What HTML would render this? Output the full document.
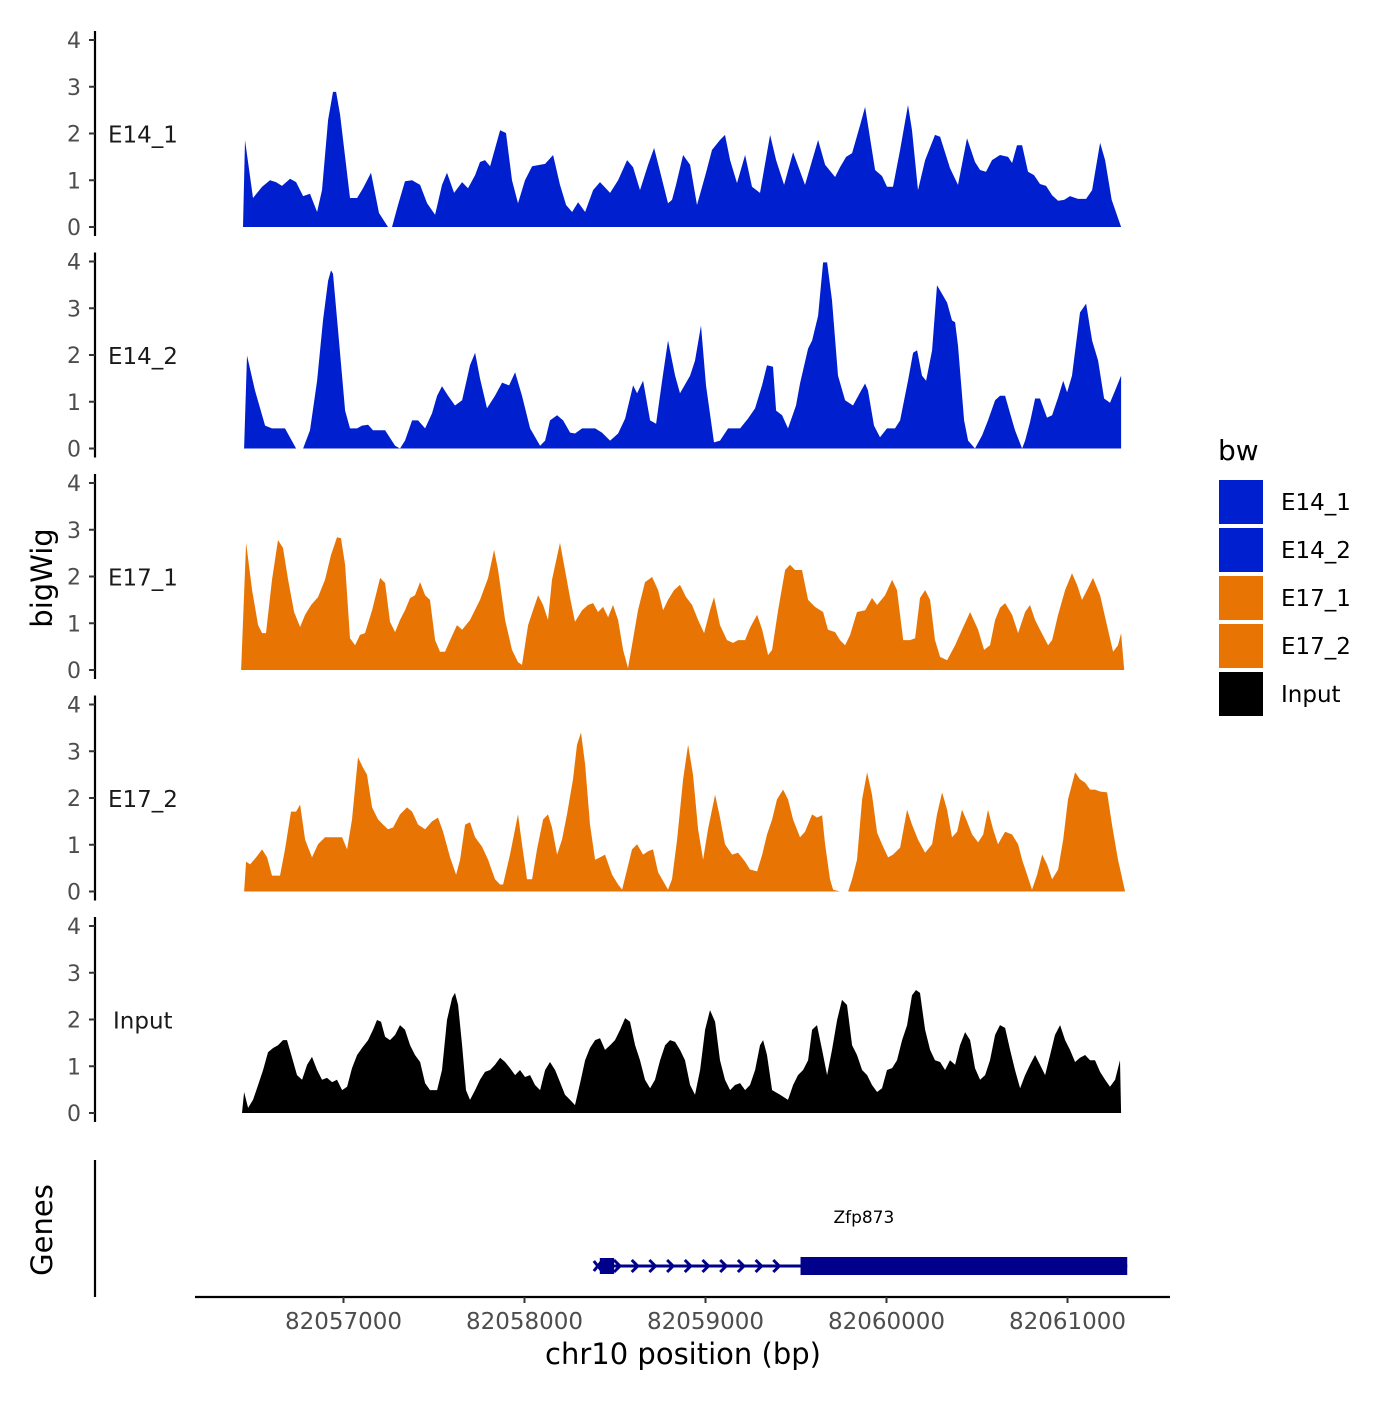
<!DOCTYPE html>
<html><head><meta charset="utf-8"><style>
html,body{margin:0;padding:0;background:#fff;}
svg text{font-family:"DejaVu Sans","Liberation Sans",sans-serif;}
</style></head><body>
<svg id="chart" width="1400" height="1400" viewBox="0 0 1400 1400" xmlns="http://www.w3.org/2000/svg">
<rect width="1400" height="1400" fill="#fff"/>
<g id="tracks"></g>
<g id="gene"></g>
<g id="axes"></g>
<text x="52" y="578" font-size="29" text-anchor="middle" transform="rotate(-90 52 578)">bigWig</text>
<text x="52" y="1230" font-size="29" text-anchor="middle" transform="rotate(-90 52 1230)">Genes</text>
<text x="683" y="1364" font-size="29" text-anchor="middle">chr10 position (bp)</text>
<g id="legend"></g>
</svg>
<script>
const START = 82056445;
const trackNames = ["E14_1","E14_2","E17_1","E17_2","Input"];
const trackColors = ["#0020D0","#0020D0","#E87503","#E87503","#000000"];
const yTicks = [0,1,2,3,4];
const xTicks = [82057000,82058000,82059000,82060000,82061000];

const pos1 = [0,11,55,105,149,182,215,260,293,332,370,409,436,470,497,514,536,591,630,663,707,751,801,823,856,895,934,978,1017,1061,1099,1127,1166,1210,1243,1282,1309,1337,1365,1420,1453,1486,1519,1558,1597,1669,1713,1751,1785,1818,1851,1890,1934,1972,2028,2072,2122,2155,2193,2238,2271,2304,2348,2370,2392,2431,2470,2508,2558,2591,2635,2663,2691,2729,2774,2812,2856,2912,2945,2989,3039,3105,3177,3216,3271,3298,3332,3365,3409,3437,3492,3530,3558,3591,3630,3674,3696,3729,3768,3823,3851,3906,3950,4000,4044,4072,4105,4138,4182,4227,4249,4276,4304,4337,4370,4403,4437,4470,4503,4536,4569,4613,4658,4691,4735,4763,4799,4851];
const val1 = [0,1.86,0.62,0.86,1.0,0.96,0.88,1.03,0.96,0.66,0.71,0.32,0.79,2.29,2.89,2.89,2.4,0.62,0.62,0.83,1.16,0.3,0,0,0.47,0.98,1.0,0.9,0.51,0.26,0.9,1.16,0.73,0.96,0.83,1.11,1.39,1.43,1.3,2.07,2.01,1.0,0.51,1.0,1.3,1.35,1.54,0.9,0.47,0.32,0.53,0.32,0.79,0.96,0.73,1.0,1.43,1.28,0.79,1.33,1.69,1.18,0.51,0.58,0.9,1.54,1.33,0.47,1.16,1.65,1.86,1.97,1.43,0.94,1.54,0.86,0.73,1.97,1.43,0.9,1.6,0.9,1.86,1.33,1.07,1.28,1.5,1.58,2.18,2.57,1.22,1.09,0.86,0.86,1.65,2.61,2.07,0.79,1.43,1.97,1.93,1.26,0.9,1.9,1.39,1.22,1.18,1.43,1.54,1.5,1.37,1.75,1.75,1.18,1.11,0.92,0.88,0.68,0.56,0.58,0.66,0.6,0.6,0.79,1.8,1.43,0.58,0];

const pos2 = [6,22,66,122,160,232,293,332,370,409,442,470,486,497,525,564,591,630,657,691,718,785,840,867,895,934,967,1006,1044,1072,1099,1133,1171,1210,1254,1282,1309,1348,1392,1431,1470,1503,1541,1586,1641,1669,1696,1735,1768,1807,1834,1873,1945,1983,2028,2072,2111,2155,2177,2210,2249,2282,2315,2348,2387,2414,2470,2497,2530,2558,2602,2635,2680,2746,2790,2829,2867,2895,2928,2945,2978,3011,3055,3077,3122,3144,3177,3205,3227,3254,3287,3326,3370,3409,3437,3453,3486,3519,3558,3602,3630,3674,3702,3724,3751,3774,3807,3834,3851,3890,3917,3934,3950,3984,4006,4044,4083,4116,4155,4182,4210,4238,4265,4304,4321,4348,4376,4403,4442,4470,4503,4531,4553,4580,4624,4658,4691,4724,4757,4790,4818,4851];
const val2 = [0,1.99,1.24,0.49,0.43,0.43,0,0,0.39,1.45,2.74,3.59,3.81,3.74,2.52,0.81,0.43,0.43,0.49,0.51,0.39,0.39,0.06,0,0.17,0.6,0.6,0.43,0.75,1.13,1.33,1.13,0.92,1.03,1.78,2.05,1.5,0.86,1.13,1.41,1.35,1.63,1.13,0.43,0.06,0.17,0.6,0.71,0.6,0.34,0.32,0.43,0.43,0.34,0.17,0.32,0.64,1.35,1.18,1.45,0.6,0.53,1.45,2.31,1.56,1.18,1.56,1.88,2.63,1.35,0.13,0.17,0.43,0.43,0.64,0.86,1.35,1.78,1.75,0.81,0.71,0.43,0.92,1.39,2.14,2.31,2.84,3.98,3.98,3.17,1.56,1.03,0.92,1.2,1.39,1.24,0.49,0.24,0.43,0.43,0.6,1.45,2.05,2.1,1.56,1.45,2.1,3.49,3.38,3.12,2.74,2.7,2.2,0.6,0.17,0,0.28,0.6,1.03,1.13,1.13,0.75,0.39,0,0.17,0.56,1.07,1.07,0.66,0.71,1.09,1.45,1.2,1.56,2.91,3.1,2.31,1.88,1.07,0.98,1.24,1.56];

const pos3 = [-11,17,50,83,105,127,160,193,221,249,282,315,343,376,414,453,486,519,541,564,591,619,646,674,713,757,785,812,840,867,895,923,950,978,1006,1033,1061,1088,1116,1144,1182,1210,1254,1309,1354,1387,1409,1448,1486,1519,1541,1575,1602,1630,1658,1685,1707,1751,1779,1807,1834,1873,1906,1934,1961,1989,2017,2044,2072,2100,2127,2149,2182,2221,2260,2293,2321,2348,2381,2414,2448,2481,2514,2547,2580,2602,2635,2674,2707,2735,2774,2801,2840,2868,2901,2923,2956,2995,3022,3050,3088,3122,3160,3205,3232,3271,3298,3326,3354,3392,3437,3475,3503,3547,3586,3613,3647,3685,3713,3740,3768,3796,3823,3851,3890,3934,3972,4017,4061,4094,4127,4155,4182,4210,4249,4282,4321,4348,4376,4403,4448,4470,4503,4542,4580,4608,4635,4663,4696,4735,4779,4807,4834,4851,4868];
const val3 = [0,2.72,1.71,0.96,0.79,0.79,1.93,2.78,2.61,1.93,1.24,0.92,1.18,1.39,1.56,1.93,2.46,2.84,2.82,2.25,0.68,0.53,0.75,0.79,1.28,1.97,1.86,1.03,0.81,1.07,1.28,1.54,1.6,1.88,1.6,1.5,0.64,0.39,0.39,0.64,0.96,0.86,1.07,1.5,1.97,2.57,2.14,1.07,0.43,0.17,0.11,0.96,1.28,1.6,1.39,1.07,1.93,2.72,2.14,1.54,1.03,1.28,1.39,1.43,1.24,1.35,1.13,1.39,1.07,0.43,0.04,0.53,1.28,1.88,1.99,1.71,1.28,1.5,1.71,1.82,1.56,1.39,1.07,0.79,1.28,1.56,0.96,0.64,0.58,0.64,0.64,0.9,1.18,0.86,0.32,0.43,1.28,2.14,2.25,2.14,2.14,1.5,1.35,1.24,0.86,0.81,0.64,0.53,0.75,1.24,1.28,1.54,1.39,1.6,1.93,1.71,0.64,0.64,0.68,1.54,1.71,1.5,0.64,0.28,0.21,0.53,0.86,1.24,0.86,0.43,0.53,1.07,1.33,1.43,1.18,0.79,1.24,1.39,1.07,0.86,0.53,0.64,1.18,1.71,2.07,1.82,1.5,1.71,1.97,1.6,0.86,0.39,0.53,0.79,0];

const pos4 = [6,17,39,72,105,133,160,204,232,265,293,315,343,381,414,453,508,547,575,602,635,663,685,713,746,774,801,829,867,906,934,967,1006,1044,1077,1105,1144,1177,1199,1227,1254,1282,1320,1354,1392,1420,1437,1475,1519,1541,1569,1597,1624,1658,1685,1707,1735,1762,1790,1823,1845,1867,1890,1917,1945,1972,2000,2039,2072,2094,2122,2149,2177,2210,2238,2265,2293,2332,2348,2370,2398,2431,2459,2486,2514,2542,2569,2608,2635,2663,2702,2735,2774,2801,2840,2868,2895,2923,2950,2984,3011,3039,3077,3105,3144,3171,3199,3216,3243,3260,3298,3343,3365,3392,3420,3448,3475,3503,3530,3564,3591,3630,3669,3696,3729,3768,3807,3834,3862,3890,3917,3945,3972,4000,4028,4061,4089,4116,4144,4171,4210,4249,4282,4304,4332,4359,4387,4415,4442,4470,4503,4531,4558,4597,4624,4652,4680,4707,4735,4774,4801,4834,4873];
const val4 = [0,0.64,0.58,0.73,0.9,0.73,0.34,0.34,0.9,1.71,1.71,1.86,1.11,0.73,1.01,1.16,1.16,1.16,0.9,1.54,2.87,2.65,2.5,1.8,1.54,1.43,1.33,1.37,1.65,1.8,1.71,1.43,1.33,1.5,1.58,1.28,0.73,0.36,0.68,1.43,1.48,1.16,0.96,0.68,0.26,0.15,0.15,0.79,1.65,1.01,0.26,0.26,0.9,1.54,1.65,1.37,0.79,1.11,1.65,2.4,3.14,3.4,2.72,1.43,0.68,0.73,0.79,0.36,0.15,0.04,0.47,0.9,1.01,0.79,0.86,0.9,0.41,0.15,0.04,0.26,1.11,2.4,3.14,2.5,1.33,0.68,1.33,2.07,1.58,1.01,0.79,0.83,0.64,0.47,0.43,0.79,1.22,1.54,1.97,2.18,1.97,1.54,1.16,1.28,1.65,1.58,1.63,1.01,0.26,0.04,0,0,0.26,0.68,1.97,2.55,2.07,1.26,1.01,0.73,0.79,0.94,1.75,1.43,1.11,0.83,1.01,1.65,2.12,1.75,1.16,1.28,1.75,1.5,1.22,1.05,1.22,1.75,1.33,1.01,1.28,1.22,1.01,0.68,0.36,0.04,0.36,0.79,0.58,0.26,0.47,1.11,1.97,2.55,2.4,2.33,2.18,2.18,2.14,2.12,1.43,0.68,0];

const pos5 = [-6,6,28,55,83,111,138,166,193,221,243,271,298,326,354,381,409,436,464,492,519,547,575,602,630,657,691,718,740,762,785,812,840,867,895,923,950,978,1006,1033,1072,1099,1127,1155,1171,1188,1210,1232,1254,1282,1309,1337,1365,1392,1420,1448,1475,1503,1530,1558,1586,1613,1641,1669,1696,1724,1751,1779,1807,1834,1862,1890,1917,1945,1972,2000,2028,2055,2083,2111,2138,2166,2193,2221,2249,2276,2304,2332,2359,2387,2414,2442,2470,2497,2525,2553,2580,2608,2635,2663,2691,2718,2746,2774,2801,2829,2856,2873,2895,2923,2967,3011,3039,3066,3094,3122,3144,3171,3199,3227,3254,3282,3309,3337,3365,3392,3420,3448,3475,3503,3530,3558,3586,3613,3641,3669,3696,3718,3740,3768,3796,3823,3851,3879,3906,3934,3961,3989,4017,4044,4072,4100,4127,4155,4182,4210,4238,4265,4293,4321,4348,4376,4403,4431,4459,4486,4514,4542,4569,4597,4624,4652,4680,4707,4735,4763,4790,4818,4845,4851];
const val5 = [0,0.45,0.11,0.28,0.6,0.92,1.3,1.39,1.45,1.56,1.56,1.18,0.81,0.71,1.03,1.2,0.92,0.71,0.75,0.66,0.71,0.49,0.56,0.96,1.24,1.39,1.56,1.78,1.99,1.95,1.63,1.56,1.67,1.88,1.78,1.45,1.24,1.09,0.64,0.49,0.49,0.92,1.99,2.46,2.57,2.31,1.45,0.49,0.28,0.49,0.71,0.88,0.92,1.03,1.18,1.09,0.96,0.81,0.92,0.77,0.81,0.6,0.49,0.92,1.09,0.92,0.66,0.39,0.28,0.17,0.64,1.13,1.39,1.56,1.6,1.35,1.45,1.56,1.78,2.03,1.95,1.45,1.13,0.71,0.53,0.71,1.13,1.45,1.56,1.52,1.35,1.13,0.6,0.39,0.92,1.78,2.2,1.95,1.13,0.71,0.49,0.6,0.64,0.49,0.6,0.92,1.45,1.56,1.24,0.49,0.39,0.28,0.6,0.81,0.92,1.13,1.78,1.88,1.35,0.81,1.35,1.99,2.42,2.31,1.45,1.24,0.92,0.81,0.6,0.45,0.53,0.92,0.96,1.13,1.56,1.88,2.52,2.63,2.57,1.78,1.35,1.13,1.09,0.92,1.13,1.03,1.45,1.73,1.56,0.96,0.71,0.81,1.13,1.67,1.88,1.82,1.35,0.92,0.53,0.81,1.03,1.24,1.03,0.81,1.24,1.67,1.88,1.56,1.35,1.09,1.18,1.24,1.13,1.13,0.88,0.71,0.56,0.71,1.13,0];

const trackPos = [pos1,pos2,pos3,pos4,pos5];
const trackVal = [val1,val2,val3,val4,val5];

// gene model (bp)
const geneName = "Zfp873";
const geneStart = 82058405;
const utrEnd = 82058495;
const cdsStart = 82059525;
const geneEnd = 82061330;

const NS = "http://www.w3.org/2000/svg";
function xs(bp){ return 343.5 + (bp - 82057000) * 0.181; }
const trackBase = [227, 448.5, 670, 891.5, 1113];
const UNIT = 46.75;
function ys(t, v){ return trackBase[t] - v * UNIT; }
function mk(tag, attrs, parent){
  const e = document.createElementNS(NS, tag);
  for (const k in attrs) e.setAttribute(k, attrs[k]);
  parent.appendChild(e); return e;
}
const tracksG = document.getElementById('tracks');
const axesG = document.getElementById('axes');

for (let t = 0; t < trackNames.length; t++) {
  const P = trackPos[t], V = trackVal[t];
  let d = "M" + xs(START + P[0]).toFixed(1) + "," + ys(t,0);
  for (let i = 0; i < P.length; i++) d += " L" + xs(START + P[i]).toFixed(1) + "," + ys(t, V[i]).toFixed(1);
  d += " L" + xs(START + P[P.length-1]).toFixed(1) + "," + ys(t,0) + " Z";
  const area = mk('path', {d: d, fill: trackColors[t]}, tracksG);
  
  
  const ax = mk('line', {x1:95, x2:95, y1: ys(t,4)-9, y2: ys(t,0)+9, stroke:'#000', 'stroke-width':2.2}, axesG);
  
  
  for (const v of yTicks) {
    const tk = mk('line', {x1:89, x2:95, y1: ys(t,v), y2: ys(t,v), stroke:'#333', 'stroke-width':2}, axesG);
    
    
    const tl = mk('text', {x:81, y: ys(t,v)+8, 'font-size':22, fill:'#4d4d4d', 'text-anchor':'end'}, axesG);
    tl.textContent = v;
    
    
  }
  const lab = mk('text', {x: t===4 ? 113 : 108, y: ys(t,2)+9, 'font-size':23, fill:'#1a1a1a'}, axesG);
  lab.textContent = trackNames[t];
  
  
}

const gax = mk('line', {x1:95, x2:95, y1:1160, y2:1297, stroke:'#000', 'stroke-width':2.2}, axesG);



const xax = mk('line', {x1:195, x2:1170, y1:1297, y2:1297, stroke:'#000', 'stroke-width':2.2}, axesG);


for (const b of xTicks) {
  const tk = mk('line', {x1: xs(b), x2: xs(b), y1:1297, y2:1303, stroke:'#333', 'stroke-width':2}, axesG);
  
  
  const tl = mk('text', {x: xs(b), y:1329, 'font-size':23, fill:'#4d4d4d', 'text-anchor':'middle'}, axesG);
  tl.textContent = b;
  
  
}

const gG = document.getElementById('gene');
const GC = '#00008B', gy = 1266;
const gl = mk('line', {x1: xs(geneStart), x2: xs(geneEnd), y1: gy, y2: gy, stroke: GC, 'stroke-width': 3}, gG);


const cx = xs(geneStart);
const xm = mk('path', {d: `M${cx-4},${gy-5} L${cx+4},${gy+5} M${cx-4},${gy+5} L${cx+4},${gy-5}`, stroke: GC, 'stroke-width': 3, fill:'none'}, gG);


const u = mk('rect', {x: xs(geneStart)+2, y: gy-8, width: xs(utrEnd)-xs(geneStart)-2, height: 16, fill: GC}, gG);


for (let k = 0; k < 10; k++) {
  const ax0 = 617 + k * 17.7;
  const ch = mk('path', {d: `M${ax0-3},${gy-6} L${ax0+3},${gy} L${ax0-3},${gy+6}`, stroke: GC, 'stroke-width': 3, fill:'none'}, gG);
  
  
}
const c = mk('rect', {x: xs(cdsStart), y: gy-9, width: xs(geneEnd)-xs(cdsStart), height: 18, fill: GC}, gG);


const gn = mk('text', {x: (xs(cdsStart)+xs(geneEnd))/2 - 100, y: 1223, 'font-size': 17, fill:'#000', 'text-anchor':'middle'}, gG);
gn.textContent = geneName;



const lg = document.getElementById('legend');
const lt = mk('text', {x:1218, y:460, 'font-size':28, fill:'#000'}, lg);
lt.textContent = 'bw';


for (let t = 0; t < trackNames.length; t++) {
  const r = mk('rect', {x:1219, y:480 + t*48, width:44, height:44, fill: trackColors[t]}, lg);
  
  
  const tx = mk('text', {x:1281, y:510 + t*48, 'font-size':23, fill:'#000'}, lg);
  tx.textContent = trackNames[t];
  
  
}
</script>
</body></html>
